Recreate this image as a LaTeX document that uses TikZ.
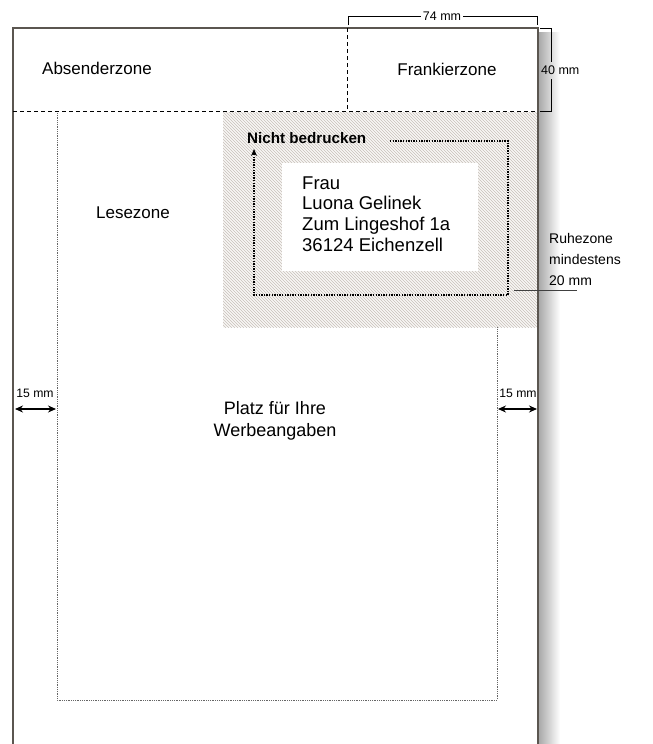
\documentclass[tikz,border=0pt]{standalone}
\usepackage{fontspec}
\setmainfont{Liberation Sans}
\usetikzlibrary{patterns,arrows.meta}
\definecolor{pageline}{HTML}{5B5650}
\definecolor{hatchbg}{HTML}{F8F7F5}
\definecolor{hatchline}{HTML}{C8C1BA}
\tikzset{
  zonelabel/.style={inner sep=0pt, font=\fontsize{17}{20}\selectfont},
  mmlabel/.style={inner sep=0pt, font=\fontsize{12.2}{14}\selectfont},
  dimline/.style={line width=0.8pt, black},
  zoneline/.style={line width=0.9pt, black, dash pattern=on 4pt off 3pt},
  leseline/.style={line width=0.9pt, gray!80!black, dash pattern=on 1pt off 0.8pt},
  marginarrow/.style={line width=1.2pt, black, {Stealth[length=8pt,width=7pt]}-{Stealth[length=8pt,width=7pt]}},
}
\begin{document}
\begin{tikzpicture}[x=1pt,y=-1pt]
\useasboundingbox (0,0) rectangle (653,744);
% shadow
\shade[left color=gray!70, right color=white] (538,32) rectangle (560,744);
% page
\fill[white] (13,28) rectangle (538,744);
% Lesezone dotted frame
\draw[leseline] (57,113) -- (57,700) -- (497,700) -- (497,113);
% hatched quiet zone
\fill[hatchbg] (223,112) rectangle (537,327);
\fill[pattern=north west lines, pattern color=hatchline] (223,112) rectangle (537,327);
\fill[white] (282,163) rectangle (478,271);
% page border
\draw[pageline, line width=1.6pt] (13,744) -- (13,28) -- (538,28) -- (538,744);
% zone lines
\draw[zoneline] (13,111) -- (537,111);
\draw[zoneline] (347,28) -- (347,111);
% labels
\node[zonelabel] (abs) at (97,68) {Absenderzone};
\node[zonelabel] (frank) at (447,69) {Frankierzone};
\node[zonelabel] (lese) at (133,213) {Lesezone};
\node[zonelabel, align=center, font=\fontsize{18}{22}\selectfont] (platz) at (275,421) {Platz für Ihre\\Werbeangaben};
% address
\node[inner sep=0pt, anchor=west, align=left, font=\fontsize{18.5}{20.7}\selectfont] (addr) at (302,214) {Frau\\Luona Gelinek\\Zum Lingeshof 1a\\36124 Eichenzell};
% Nicht bedrucken
\node[inner sep=0pt, anchor=west, font=\bfseries\fontsize{15.2}{17}\selectfont] (nb) at (247,138) {Nicht bedrucken};
\coordinate (r0) at (390,141);
\coordinate (r1) at (508,141);
\coordinate (r2) at (508,295);
\coordinate (r3) at (254,295);
\coordinate (r4) at (254,149);
\draw[line width=1.2pt, dash pattern=on 1.4pt off 1.2pt, -{Stealth[length=7pt,width=6pt]}] (r0) -- (r1) -- (r2) -- (r3) -- (r4);
% Ruhezone
\node[inner sep=0pt, anchor=west, align=left, font=\fontsize{14}{21}\selectfont] (rz) at (549,259) {Ruhezone\\mindestens\\20 mm};
\coordinate (rzl) at (514,290);
\draw[line width=0.9pt, black!75] (rzl) -- (577,290);
% 74 mm
\coordinate (t1) at (348,25);
\coordinate (t2) at (537,25);
\draw[dimline] (t1) |- (t2 |- 0,16) -- (t2);
\node[mmlabel, fill=white, inner xsep=2pt, font=\fontsize{12.5}{14}\selectfont] (d74) at (442,16) {74 mm};
% 40 mm
\node[mmlabel, anchor=west, font=\fontsize{12.5}{14}\selectfont] (d40) at (541,70) {40 mm};
\coordinate (s1) at (540,28);
\coordinate (s2) at (540,111);
\draw[dimline] (s1) -- (551,28) -- (551,62);
\draw[dimline] (551,79) -- (551,111) -- (s2);
% 15 mm margins
\node[mmlabel] (m1) at (35,393) {15 mm};
\node[mmlabel] (m2) at (518,393) {15 mm};
\coordinate (a1) at (15,409);
\coordinate (a2) at (56,409);
\coordinate (b1) at (498,409);
\coordinate (b2) at (537,409);
\draw[marginarrow] (a1) -- (a2);
\draw[marginarrow] (b1) -- (b2);
\end{tikzpicture}
\end{document}
